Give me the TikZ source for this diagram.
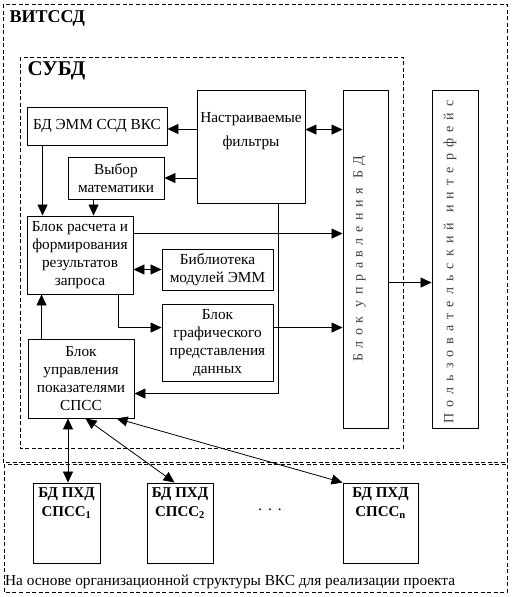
\documentclass[tikz,border=0pt]{standalone}
\usepackage{fontspec}
\setmainfont{Liberation Serif}
\usetikzlibrary{arrows.meta,positioning,calc}

\begin{document}
\begin{tikzpicture}[x=1pt, y=-1pt,
        font=\fontsize{15.3}{18}\selectfont,
        box/.style={draw, line width=0.9pt, inner sep=0pt, align=center},
        frame/.style={draw, line width=0.8pt, dash pattern=on 4pt off 2.5pt},
        arr/.style={-{Triangle[length=11pt, width=10pt]}, line width=0.8pt},
        darr/.style={{Triangle[length=11pt, width=10pt]}-{Triangle[length=11pt, width=10pt]}, line width=0.8pt},
        vtext/.style={rotate=90, text=black!75, font=\fontsize{14}{16}\selectfont}]
    \useasboundingbox (0,0) rectangle (514,597);
    % frames
    \draw[frame] (3,4) rectangle (507,462);
    \draw[frame] (20,57) rectangle (403,448);
    \draw[frame] (4,464) rectangle (507,592);
    \node[anchor=west, font=\bfseries\fontsize{18}{20}\selectfont] (lvit) at (6,18) {ВИТССД};
    \node[anchor=west, font=\bfseries\fontsize{21}{24}\selectfont] (lsubd) at (24,71) {СУБД};
    % SUBD blocks
    \node[box, minimum width=140, minimum height=38] (bdemm) at (97,126) {БД ЭММ ССД ВКС};
    \node[box, minimum width=108, minimum height=113] (filt) at (251,146.5) {};
    \node[align=center, inner sep=0pt, below=23pt of filt.north] (filttxt) {Настраиваемые\\[6pt]фильтры};
    \node[box, minimum width=96, minimum height=42] (vybor) at (116,178) {Выбор\\математики};
    \node[box, minimum width=106, minimum height=78] (rasch) at (80,255) {Блок расчета и\\формирования\\результатов\\запроса};
    \node[box, minimum width=111, minimum height=41] (bibl) at (217.5,269.5) {Библиотека\\модулей ЭММ};
    \node[box, minimum width=111, minimum height=77] (graf) at (217.5,342.5) {Блок\\графического\\представления\\данных};
    \node[box, minimum width=106, minimum height=79] (upr) at (81,378.5) {Блок\\управления\\показателями\\СПСС};
    \node[box, minimum width=45, minimum height=338] (ubd) at (365.5,259) {};
    \node[vtext] (ubdtxt) at ($(ubd)+(-6,0)$) {\addfontfeatures{LetterSpace=40}Блок управления БД};
    \node[box, minimum width=46, minimum height=338] (ui) at (455,259) {};
    \node[vtext] (uitxt) at ($(ui)+(-5,3)$) {\addfontfeatures{LetterSpace=44}Пользовательский интерфейс};
    % SPSS databases
    \node[box, minimum width=67, minimum height=80] (spss1) at (66.5,523) {};
    \node[box, minimum width=66, minimum height=80] (spss2) at (180,523) {};
    \node[box, minimum width=75, minimum height=80] (spssn) at (380.5,523) {};
    \foreach \s/\i in {spss1/1, spss2/2, spssn/n}
        \node[align=center, inner sep=0pt, font=\bfseries\fontsize{15}{19}\selectfont,
            below=5pt of \s.north] (\s txt) {БД ПХД\\СПСС\textsubscript{\i}};
    \node (dots) at (270,510) {.\hspace{6pt}.\hspace{6pt}.};
    \node[anchor=west, inner sep=0pt] (osn) at (5,582) {На основе организационной структуры ВКС для реализации проекта};
    % connectors
    \draw[arr] ($(filt.west |- bdemm.east)+(0,3)$) -- ($(bdemm.east)+(0,3)$);
    \draw[arr] (filt.west |- vybor.east) -- (vybor.east);
    \coordinate (fr) at ($(filt.north east)+(0,40)$);
    \draw[darr] (fr) -- (fr -| ubd.west);
    \coordinate (bd) at ($(bdemm.south west)+(16,0)$);
    \draw[arr] (bd) -- (bd |- rasch.north);
    \coordinate (vb) at ($(vybor.south west)+(26,0)$);
    \draw[arr] (vb) -- (vb |- rasch.north);
    \coordinate (rs) at ($(rasch.north east)+(0,18)$);
    \draw[arr] (rs) -- (rs -| ubd.west);
    \draw[darr] (rasch.east |- bibl.west) -- (bibl.west);
    \coordinate (gr) at ($(graf.north west)+(0,24)$);
    \draw[arr] ($(rasch.south east)+(-15,0)$) |- (gr);
    \draw[arr] (gr -| graf.east) -- (gr -| ubd.west);
    \coordinate (fu) at ($(upr.north east)+(0,55)$);
    \draw[arr] ($(filt.south west)+(82,0)$) |- (fu);
    \coordinate (ur) at ($(upr.north west)+(14,0)$);
    \draw[arr] (ur) -- (ur |- rasch.south);
    \coordinate (uo) at ($(ubd.north east)+(0,193)$);
    \draw[arr] (uo) -- (uo -| ui.west);
    \draw[darr] ($(spss1.north |- upr.south)+(1.5,0)$) -- ($(spss1.north)+(1.5,0)$);
    \draw[darr] ($(upr.south west)+(58,0)$) -- ($(spss2.north west)+(28,0)$);
    \draw[darr] ($(upr.south west)+(89,0)$) -- (spssn.north west);
\end{tikzpicture}
\end{document}
